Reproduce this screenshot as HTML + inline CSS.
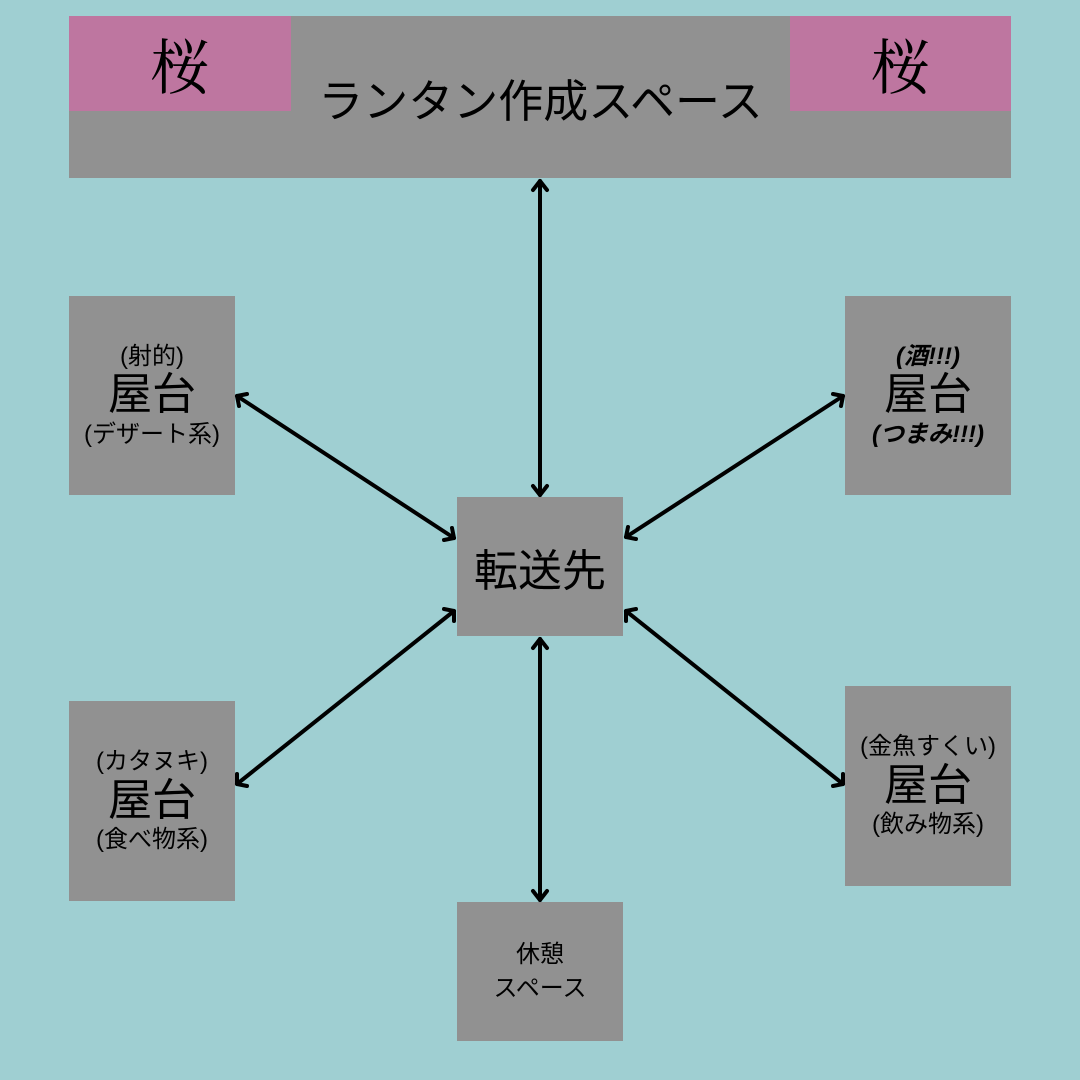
<!DOCTYPE html>
<html><head><meta charset="utf-8"><style>
html,body{margin:0;padding:0}
body{width:1080px;height:1080px;background:#9fcfd2;position:relative;overflow:hidden;font-family:"Liberation Sans","Noto Sans CJK JP",sans-serif;color:#000}
.b{position:absolute;background:#919191;display:flex;flex-direction:column;align-items:center;justify-content:center;text-align:center}
.p{position:absolute;background:#be76a0;display:flex;align-items:center;justify-content:center;font-size:60px;font-family:"Noto Serif CJK SC",serif}
.s{font-size:24px;line-height:1.15}
.l{font-size:44px;line-height:1.15}
.bold{font-weight:bold;font-style:italic}
</style></head><body>
<div class="b" style="left:69px;top:16px;width:942px;height:162px"></div>
<div class="p" style="left:69px;top:16px;width:222px;height:95px">桜</div>
<div class="p" style="left:790px;top:16px;width:221px;height:95px">桜</div>
<div style="position:absolute;left:291px;top:65px;width:499px;text-align:center;font-size:45px">ランタン作成スペース</div>

<div class="b" style="left:69px;top:296px;width:166px;height:199px"><div class="s">(射的)</div><div class="l">屋台</div><div class="s">(デザート系)</div></div>
<div class="b" style="left:845px;top:296px;width:166px;height:199px"><div class="s bold">(酒!!!)</div><div class="l">屋台</div><div class="s bold">(つまみ!!!)</div></div>
<div class="b" style="left:457px;top:497px;width:166px;height:139px"><div style="font-size:44px">転送先</div></div>
<div class="b" style="left:69px;top:701px;width:166px;height:200px"><div class="s">(カタヌキ)</div><div class="l">屋台</div><div class="s">(食べ物系)</div></div>
<div class="b" style="left:845px;top:686px;width:166px;height:200px"><div class="s">(金魚すくい)</div><div class="l">屋台</div><div class="s">(飲み物系)</div></div>
<div class="b" style="left:457px;top:902px;width:166px;height:139px"><div style="font-size:24px;line-height:1.4">休憩<br>スペース</div></div>

<svg width="1080" height="1080" style="position:absolute;left:0;top:0" fill="none" stroke="#000" stroke-width="4" stroke-linecap="round" stroke-linejoin="round">
<g>
<line x1="540" y1="181" x2="540" y2="495"/>
<polyline points="533,190 540,181 547,190"/><polyline points="533,486 540,495 547,486"/>
<line x1="540" y1="639" x2="540" y2="900"/>
<polyline points="533,648 540,639 547,648"/><polyline points="533,891 540,900 547,891"/>
<line x1="237" y1="396" x2="454" y2="538"/>
<polyline points="239,406 237,396 247,394"/><polyline points="452,528 454,538 444,540"/>
<line x1="843" y1="396" x2="626" y2="537"/>
<polyline points="833,394 843,396 841,406"/><polyline points="628,527 626,537 636,539"/>
<line x1="454" y1="611" x2="237" y2="784"/>
<polyline points="444,609 454,611 454,621"/><polyline points="237,774 237,784 247,786"/>
<line x1="626" y1="611" x2="843" y2="784"/>
<polyline points="626,621 626,611 636,609"/><polyline points="833,786 843,784 843,774"/>
</g>
</svg>
</body></html>
